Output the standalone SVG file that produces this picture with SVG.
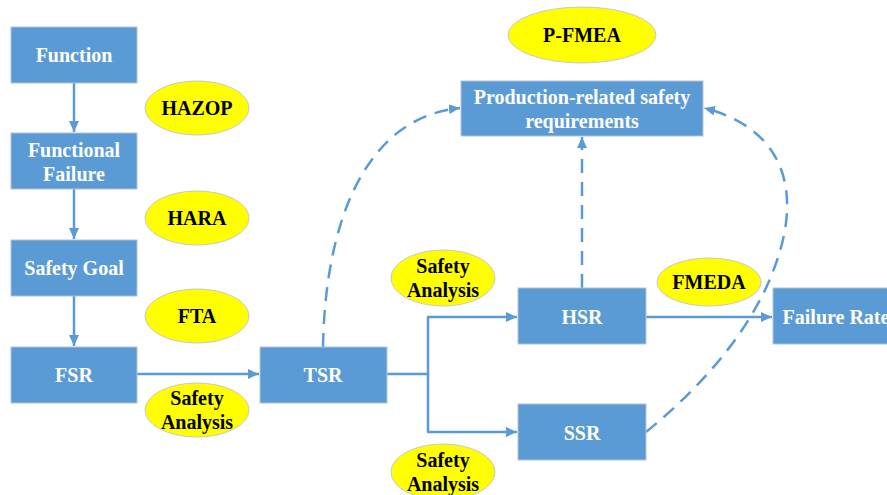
<svg xmlns="http://www.w3.org/2000/svg" width="887" height="495" viewBox="0 0 887 495">
<style>
.box{fill:#5B9BD5;stroke:#b4c3d6;stroke-width:1}
.bt{font-family:"Liberation Serif","Times New Roman",serif;font-weight:bold;font-size:20px;fill:#ffffff;text-anchor:middle}
.el{fill:#FFFF00;stroke:#c8c8c8;stroke-width:1}
.et{font-family:"Liberation Serif","Times New Roman",serif;font-weight:bold;font-size:20px;fill:#000000;text-anchor:middle}
.ln{fill:none;stroke:#5B9BD5;stroke-width:2.5}
.dl{fill:none;stroke:#5B9BD5;stroke-width:2.5;stroke-dasharray:14 9}
</style>
<defs>
<marker id="ah" markerUnits="userSpaceOnUse" markerWidth="12" markerHeight="12" viewBox="0 0 12 12" refX="11" refY="6" orient="auto">
<path d="M0,1 L11,6 L0,11 Z" fill="#5B9BD5"/>
</marker>
</defs>
<g id="connectors">
<line class="ln" x1="74" y1="83" x2="74" y2="132" marker-end="url(#ah)"/>
<line class="ln" x1="74" y1="189" x2="74" y2="239" marker-end="url(#ah)"/>
<line class="ln" x1="74" y1="296" x2="74" y2="346" marker-end="url(#ah)"/>
<line class="ln" x1="137" y1="374" x2="259" y2="374" marker-end="url(#ah)"/>
<polyline class="ln" points="387,374 428,374"/>
<polyline class="ln" points="428,317 428,432"/>
<line class="ln" x1="427" y1="317" x2="517" y2="317" marker-end="url(#ah)"/>
<line class="ln" x1="427" y1="432" x2="517" y2="432" marker-end="url(#ah)"/>
<line class="ln" x1="646" y1="317" x2="772" y2="317" marker-end="url(#ah)"/>
<path class="dl" d="M323,347 C325,228 362,118 460,108" marker-end="url(#ah)"/>
<line class="dl" x1="582" y1="288" x2="582" y2="137" marker-end="url(#ah)"/>
<path class="dl" d="M646,432 C710,380 770,310 785,230 C795,170 770,125 704,108" marker-end="url(#ah)"/>
</g>
<g id="function"><rect class="box" x="11" y="27" width="126" height="56"/><text class="bt" x="74" y="62">Function</text></g>
<g id="functional-failure"><rect class="box" x="11" y="133" width="126" height="56"/><text class="bt" x="74" y="157">Functional</text><text class="bt" x="74" y="181">Failure</text></g>
<g id="safety-goal"><rect class="box" x="11" y="240" width="126" height="56"/><text class="bt" x="74" y="275">Safety Goal</text></g>
<g id="fsr"><rect class="box" x="11" y="347" width="126" height="56"/><text class="bt" x="74" y="382">FSR</text></g>
<g id="tsr"><rect class="box" x="260" y="347" width="127" height="56"/><text class="bt" x="323" y="382">TSR</text></g>
<g id="hsr"><rect class="box" x="518" y="288" width="128" height="56"/><text class="bt" x="582" y="324">HSR</text></g>
<g id="ssr"><rect class="box" x="518" y="404" width="128" height="56"/><text class="bt" x="582" y="440">SSR</text></g>
<g id="failure-rate"><rect class="box" x="773" y="288" width="127" height="56"/><text class="bt" x="836" y="324">Failure Rate</text></g>
<g id="production"><rect class="box" x="461" y="81" width="242" height="55"/><text class="bt" x="582" y="104">Production-related safety</text><text class="bt" x="582" y="128">requirements</text></g>
<g id="hazop"><ellipse class="el" cx="197" cy="108" rx="52" ry="27"/><text class="et" x="197" y="115">HAZOP</text></g>
<g id="hara"><ellipse class="el" cx="197" cy="218" rx="52" ry="27"/><text class="et" x="197" y="225">HARA</text></g>
<g id="fta"><ellipse class="el" cx="197" cy="316" rx="52" ry="27"/><text class="et" x="197" y="323">FTA</text></g>
<g id="sa-fsr"><ellipse class="el" cx="197" cy="410" rx="52" ry="27"/><text class="et" x="197" y="405">Safety</text><text class="et" x="197" y="429">Analysis</text></g>
<g id="sa-hsr"><ellipse class="el" cx="443" cy="278" rx="52" ry="28"/><text class="et" x="443" y="273">Safety</text><text class="et" x="443" y="297">Analysis</text></g>
<g id="sa-ssr"><ellipse class="el" cx="443" cy="472" rx="52" ry="28"/><text class="et" x="443" y="467">Safety</text><text class="et" x="443" y="491">Analysis</text></g>
<g id="fmeda"><ellipse class="el" cx="709" cy="282" rx="52" ry="24"/><text class="et" x="709" y="289">FMEDA</text></g>
<g id="p-fmea"><ellipse class="el" cx="582" cy="35" rx="74" ry="28"/><text class="et" x="582" y="42">P-FMEA</text></g>
</svg>
